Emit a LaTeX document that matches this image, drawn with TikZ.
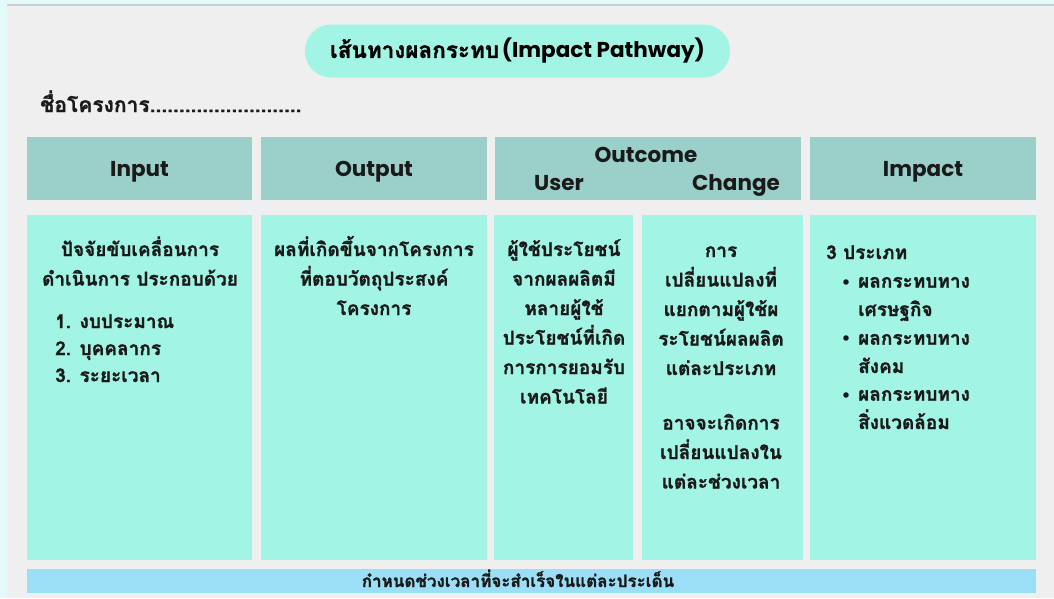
\documentclass[tikz,border=0pt]{standalone}
\usepackage{fontspec}
\setmainfont{Poppins}
\newfontfamily\thai[Script=Thai,BoldFeatures={FakeBold=1.2}]{Loma}
\definecolor{outerc}{HTML}{E4FAFA}
\definecolor{panelc}{HTML}{EFEFEF}
\definecolor{linec}{HTML}{C9CFCF}
\definecolor{mint}{HTML}{A2F5E5}
\definecolor{headc}{HTML}{9AD0C9}
\definecolor{barc}{HTML}{9ADFF6}
\definecolor{ink}{HTML}{1A1A1A}
\tikzset{
  hbox/.style={fill=headc, draw=none, inner sep=0pt, minimum height=63pt},
  bbox/.style={fill=mint, draw=none, inner sep=0pt, minimum height=345pt},
  htext/.style={font=\fontsize{21.5}{24}\selectfont\bfseries, text=ink, inner sep=0pt, anchor=base},
  btext/.style={font=\thai\bfseries\fontsize{19}{29.5}\selectfont, text=ink, inner sep=0pt, align=center, anchor=base},
  ltext/.style={font=\thai\bfseries\fontsize{19}{27}\selectfont, text=ink, inner sep=0pt, align=left, anchor=base west},
  itext/.style={font=\thai\bfseries\fontsize{19}{28.3}\selectfont, text=ink, inner sep=0pt, align=left, anchor=base west},
  dot/.style={anchor=base, inner sep=0pt, font=\fontsize{18}{20}\selectfont\bfseries, text=ink},
}
\begin{document}
\begin{tikzpicture}[x=1pt,y=-1pt]
\useasboundingbox (0,0) rectangle (1054,598);
\fill[outerc] (0,0) rectangle (1054,598);
\fill[panelc] (7,5) rectangle (1054,598);
\draw[linec, line width=1.5pt] (7,5) -- (1054,5);
% title
\node[fill=mint, rounded corners=26pt, minimum width=425pt, minimum height=53pt, inner sep=0pt] (title) at (517.5,51)
  {{\thai\bfseries\fontsize{22.5}{26}\selectfont เส้นทางผลกระทบ} {\bfseries\fontsize{21.5}{26}\selectfont (Impact Pathway)}};
\node[anchor=base west, inner sep=0pt, font=\thai\bfseries\fontsize{21}{24}\selectfont, text=ink] (name) at (40,112) {ชื่อโครงการ..........................};
% headers
\node[hbox, minimum width=225pt] (hin) at (139.5,168.5) {};
\node[hbox, minimum width=226pt] (hout) at (374,168.5) {};
\node[hbox, minimum width=306pt] (hoc) at (648,168.5) {};
\node[hbox, minimum width=226pt] (himp) at (923,168.5) {};
\node[htext] (tin) at (139.5,176) {Input};
\node[htext] (tout) at (374,176) {Output};
\node[htext] (toc) at (646,162) {Outcome};
\node[htext] (tuser) at (559,190) {User};
\node[htext] (tchg) at (736,190) {Change};
\node[htext] (timp) at (923,176) {Impact};
% bodies
\node[bbox, minimum width=225pt] (bin) at (139.5,387.5) {};
\node[bbox, minimum width=226pt] (bout) at (374,387.5) {};
\node[bbox, minimum width=139pt] (buser) at (563.5,387.5) {};
\node[bbox, minimum width=161pt] (bchg) at (722.5,387.5) {};
\node[bbox, minimum width=226pt] (bimp) at (923,387.5) {};
% bottom bar
\node[fill=barc, inner sep=0pt, minimum width=1009pt, minimum height=24pt] (bar) at (531.5,581) {};
\node[inner sep=0pt, anchor=base, font=\thai\bfseries\fontsize{17}{18}\selectfont, text=ink] (bartext) at (518,587) {กำหนดช่วงเวลาที่จะสำเร็จในแต่ละประเด็น};
% texts
\node[btext] (xin) at (140,285.5) {ปัจจัยขับเคลื่อนการ\\ดำเนินการ ประกอบด้วย};
\node[ltext] (xlist) at (55,382) {1. งบประมาณ\\2. บุคคลากร\\3. ระยะเวลา};
\node[btext] (xout) at (374,315) {ผลที่เกิดขึ้นจากโครงการ\\ที่ตอบวัตถุประสงค์\\โครงการ};
\node[btext] (xuser) at (564,403.5) {ผู้ใช้ประโยชน์\\จากผลผลิตมี\\หลายผู้ใช้\\ประโยชน์ที่เกิด\\การการยอมรับ\\เทคโนโลยี};
\node[btext] (xchg) at (721,488.5) {การ\\เปลี่ยนแปลงที่\\แยกตามผู้ใช้ผ\\ระโยชน์ผลผลิต\\แต่ละประเภท\\[25pt]อาจจะเกิดการ\\เปลี่ยนแปลงใน\\แต่ละช่วงเวลา};
\node[itext] (ximp) at (826,259) {3 ประเภท};
\node[itext] (xb1) at (858,316) {ผลกระทบทาง\\เศรษฐกิจ};
\node[itext] (xb2) at (858,373) {ผลกระทบทาง\\สังคม};
\node[itext] (xb3) at (858,429) {ผลกระทบทาง\\สิ่งแวดล้อม};
\node[dot] (d1) at (846,288) {•};
\node[dot] (d2) at (846,344) {•};
\node[dot] (d3) at (846,401) {•};
\end{tikzpicture}
\end{document}
